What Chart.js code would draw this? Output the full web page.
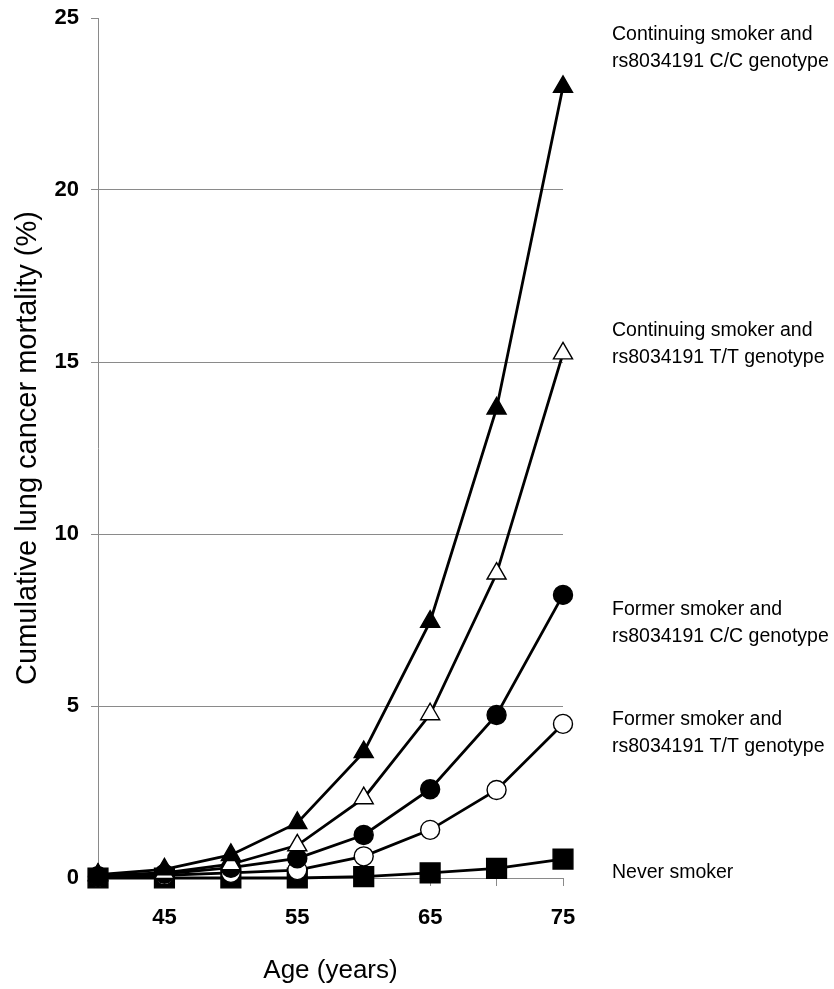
<!DOCTYPE html>
<html>
<head>
<meta charset="utf-8">
<script src="https://cdn.jsdelivr.net/npm/chart.js@4.4.1/dist/chart.umd.min.js"></script>
<style>
  html, body { margin: 0; padding: 0; background: #ffffff; }
  #c { display: block; }
</style>
</head>
<body>
<canvas id="c" width="834" height="989"></canvas>
<script>
// ---- Data ----
const ages = [40, 45, 50, 55, 60, 65, 70, 75];
const continuingCC = [0.10, 0.25, 0.67, 1.60, 3.66, 7.45, 13.65, 23.0];
const continuingTT = [0.08, 0.15, 0.40, 0.95, 2.32, 4.76, 8.85, 15.25];
const formerCC     = [0.05, 0.12, 0.30, 0.57, 1.25, 2.58, 4.74, 8.23];
const formerTT     = [0.03, 0.08, 0.15, 0.23, 0.63, 1.40, 2.56, 4.48];
const neverSmoker  = [0.00, 0.00, 0.00, 0.00, 0.04, 0.15, 0.28, 0.55];

const xTickLabels = [45, 55, 65, 75];
const yTicks = [0, 5, 10, 15, 20, 25];

const seriesNames = [
  ["Continuing smoker and", "rs8034191 C/C genotype"],
  ["Continuing smoker and", "rs8034191 T/T genotype"],
  ["Former smoker and", "rs8034191 C/C genotype"],
  ["Former smoker and", "rs8034191 T/T genotype"],
  ["Never smoker"]
];
// value (y-axis units) where each label's first line is centred
const labelAnchors = [24.53, 15.9, 7.79, 4.59, 0.15];

const toPts = arr => arr.map((v, i) => ({ x: ages[i], y: v }));

function ds(name, values, style, fill, radius) {
  return {
    label: name.join(' '),
    data: toPts(values),
    borderColor: '#000000',
    borderWidth: 2.8,
    pointStyle: style,
    pointRadius: radius,
    pointHoverRadius: radius,
    pointBackgroundColor: fill,
    pointBorderColor: '#000000',
    pointBorderWidth: 1.4,
    tension: 0,
    clip: false
  };
}

const labelPlugin = {
  id: 'rightLabels',
  afterDraw(chart) {
    const ctx = chart.ctx;
    const xs = chart.scales.x, ys = chart.scales.y;
    const x0 = xs.getPixelForValue(75) + 49;
    ctx.save();
    ctx.fillStyle = '#000000';
    ctx.font = '19.5px "Liberation Sans", Arial, sans-serif';
    ctx.textAlign = 'left';
    ctx.textBaseline = 'middle';
    seriesNames.forEach((lines, i) => {
      const y0 = ys.getPixelForValue(labelAnchors[i]);
      lines.forEach((t, j) => ctx.fillText(t, x0, y0 + j * 27));
    });
    ctx.restore();
  }
};

const gridGray = '#8a8a8a';

new Chart(document.getElementById('c'), {
  type: 'line',
  data: {
    datasets: [
      ds(seriesNames[0], continuingCC, 'triangle', '#000000', 11),
      ds(seriesNames[1], continuingTT, 'triangle', '#ffffff', 11),
      ds(seriesNames[2], formerCC, 'circle', '#000000', 9.5),
      ds(seriesNames[3], formerTT, 'circle', '#ffffff', 9.5),
      ds(seriesNames[4], neverSmoker, 'rect', '#000000', 14)
    ]
  },
  options: {
    responsive: false,
    animation: false,
    devicePixelRatio: 1,
    layout: { padding: { left: 0, top: 18, right: 271, bottom: 0 } },
    plugins: {
      legend: { display: false },
      tooltip: { enabled: false }
    },
    scales: {
      x: {
        type: 'linear',
        min: 40, max: 75,
        afterFit(scale) { scale.height = 111; scale.paddingLeft = 0; scale.paddingRight = 0; },
        border: { display: true, color: gridGray, width: 1 },
        grid: { display: true, drawOnChartArea: false, drawTicks: true, tickLength: 8, tickColor: gridGray, color: gridGray },
        ticks: {
          stepSize: 5,
          padding: 19,
          color: '#000000',
          font: { family: '"Liberation Sans", Arial, sans-serif', size: 22, weight: 'bold' },
          maxRotation: 0,
          autoSkip: false,
          callback: v => xTickLabels.includes(v) ? String(v) : ''
        },
        title: {
          display: true,
          text: 'Age (years)',
          color: '#000000',
          font: { family: '"Liberation Sans", Arial, sans-serif', size: 26, weight: 'normal' },
          padding: { top: 0, bottom: 3 }
        }
      },
      y: {
        min: 0, max: 25,
        afterFit(scale) { scale.width = 98; scale.paddingTop = 0; scale.paddingBottom = 0; },
        afterBuildTicks(scale) { scale.ticks = yTicks.map(v => ({ value: v })); },
        border: { display: true, color: gridGray, width: 1 },
        grid: {
          display: true,
          drawTicks: true,
          tickLength: 7,
          tickColor: gridGray,
          color: c => (c.tick && (c.tick.value === 25 || c.tick.value === 0)) ? 'rgba(0,0,0,0)' : gridGray
        },
        ticks: {
          padding: 12,
          color: '#000000',
          font: { family: '"Liberation Sans", Arial, sans-serif', size: 22, weight: 'bold' }
        },
        title: {
          display: true,
          text: 'Cumulative lung cancer mortality (%)',
          color: '#000000',
          font: { family: '"Liberation Sans", Arial, sans-serif', size: 29, weight: 'normal' },
          padding: { top: 11, bottom: 0 }
        }
      }
    }
  },
  plugins: [labelPlugin]
});
</script>
</body>
</html>
